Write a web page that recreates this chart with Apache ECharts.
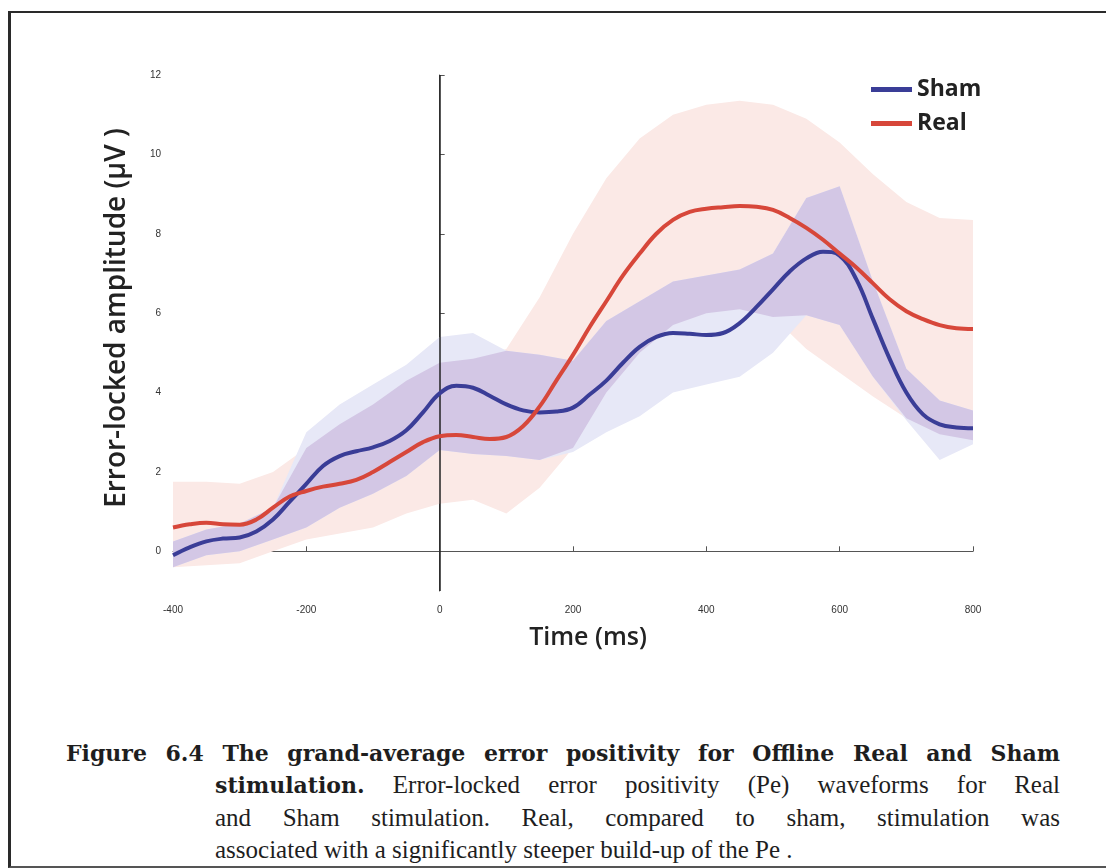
<!DOCTYPE html>
<html>
<head>
<meta charset="utf-8">
<script src="https://cdn.jsdelivr.net/npm/echarts@6/dist/echarts.min.js"></script>
<style>
  html, body { margin: 0; padding: 0; background: #ffffff; width: 1106px; height: 868px; overflow: hidden; }
  #frame { position: absolute; left: 8px; top: 11px; width: 1200px; height: 853px;
           border-top: 2px solid #2a2a2a; border-left: 3px solid #2a2a2a; border-bottom: 2px solid #555; }
  #chart { position: absolute; left: 0; top: 0; width: 1106px; height: 700px; }
  .cap { position: absolute; font-family: 'Liberation Serif', 'DejaVu Serif', serif; font-size: 25px;
         line-height: 33px; color: #1e1e1e; white-space: nowrap; }
  .just { text-align: justify; text-align-last: justify; white-space: normal; }
  b { font-family: 'DejaVu Serif', 'Liberation Serif', serif; font-weight: bold; font-size: 22px; }
</style>
</head>
<body>
<div id="frame"></div>
<div id="chart"></div>
<div class="cap just" style="left:66px; top:736px; width:994px;"><b>Figure 6.4 The grand-average error positivity for Offline Real and Sham</b></div>
<div class="cap just" style="left:215px; top:768px; width:845px;"><b>stimulation.</b> Error-locked error positivity (Pe) waveforms for Real</div>
<div class="cap just" style="left:215px; top:801px; width:845px;">and Sham stimulation. Real, compared to sham, stimulation was</div>
<div class="cap" style="left:215px; top:833px;">associated with a significantly steeper build-up of the Pe .</div>
<script>
// ---- data (time in ms, amplitude in µV) ----
const times = [-400,-375,-350,-325,-300,-275,-250,-225,-200,-175,-150,-125,-100,-75,-50,-25,
  0,25,50,75,100,125,150,175,200,225,250,275,300,325,350,375,400,425,450,475,500,525,550,575,
  600,625,650,675,700,725,750,775,800];
const shamMean = [-0.1,0.1,0.25,0.32,0.35,0.5,0.8,1.25,1.7,2.15,2.4,2.52,2.62,2.78,3.05,3.5,
  3.98,4.17,4.12,3.92,3.7,3.55,3.5,3.52,3.62,3.95,4.3,4.75,5.15,5.4,5.5,5.48,5.45,5.5,5.75,6.15,
  6.6,7.05,7.38,7.55,7.45,6.85,5.85,4.85,4.0,3.45,3.2,3.12,3.1];
const realMean = [0.6,0.68,0.72,0.68,0.67,0.8,1.1,1.38,1.52,1.63,1.7,1.8,2.0,2.25,2.5,2.75,
  2.9,2.93,2.88,2.83,2.88,3.15,3.65,4.3,4.95,5.65,6.3,6.95,7.5,8.0,8.35,8.55,8.63,8.67,8.7,8.68,
  8.6,8.4,8.15,7.85,7.5,7.15,6.75,6.35,6.05,5.85,5.7,5.62,5.6];

const bandTimes = [-400,-350,-300,-250,-200,-150,-100,-50,0,50,100,150,200,250,300,350,400,450,
  500,550,600,650,700,750,800];
const realLo = [-0.4,-0.35,-0.3,0.0,0.3,0.45,0.6,0.95,1.2,1.3,0.95,1.6,2.6,4.0,5.0,5.7,6.0,6.1,
  5.9,5.1,4.5,3.9,3.35,2.95,2.8];
const realHi = [1.75,1.75,1.7,2.0,2.6,3.2,3.7,4.3,4.75,4.85,5.1,6.4,8.0,9.4,10.4,11.0,11.25,11.35,
  11.25,10.9,10.3,9.5,8.8,8.4,8.35];
const shamLo = [-0.4,-0.1,0.0,0.3,0.6,1.1,1.45,1.9,2.55,2.45,2.4,2.3,2.5,3.0,3.4,4.0,4.2,4.4,
  5.0,5.95,5.7,4.4,3.3,2.3,2.7];
const shamHi = [0.25,0.55,0.7,1.1,3.0,3.7,4.2,4.7,5.4,5.5,5.05,4.95,4.8,5.8,6.3,6.8,6.95,7.1,
  7.5,8.9,9.2,6.8,4.6,3.8,3.55];

const xTicks = [-400,-200,0,200,400,600,800];
const yTicks = [0,2,4,6,8,10,12];

// ---- helpers ----
const pair = (xs, ys) => xs.map((x, i) => [x, ys[i]]);
const overlapLo = bandTimes.map((t, i) => Math.max(realLo[i], shamLo[i]));
const overlapHi = bandTimes.map((t, i) => Math.max(overlapLo[i], Math.min(realHi[i], shamHi[i])));

function band(name, lo, hi, color, z) {
  return {
    name: name, type: 'custom', silent: true, z: z, clip: true,
    data: bandTimes.map((t, i) => [t, lo[i], hi[i]]),
    encode: { x: 0, y: [1, 2] },
    renderItem: function (params, api) {
      if (params.dataIndex !== 0) return null;
      const pts = [];
      for (let i = 0; i < bandTimes.length; i++) pts.push(api.coord([bandTimes[i], hi[i]]));
      for (let i = bandTimes.length - 1; i >= 0; i--) pts.push(api.coord([bandTimes[i], lo[i]]));
      return { type: 'polygon', shape: { points: pts }, style: { fill: color, stroke: null } };
    }
  };
}

const chart = echarts.init(document.getElementById('chart'));
const tickFont = { fontFamily: "'Liberation Sans Narrow', 'Liberation Sans', sans-serif", fontSize: 10, color: '#333' };

chart.setOption({
  animation: false,
  backgroundColor: 'transparent',
  grid: { left: 173, right: 133, top: 75, height: 516 },
  legend: {
    data: ['Sham', 'Real'], orient: 'vertical', left: 866, top: 73, itemWidth: 41, itemHeight: 5,
    itemGap: 11, icon: 'rect',
    textStyle: { fontFamily: "'Open Sans', sans-serif", fontWeight: 'bold', fontSize: 23, color: '#222' }
  },
  xAxis: {
    type: 'value', min: -400, max: 800, interval: 200,
    name: 'Time (ms)', nameLocation: 'middle', nameGap: 34,
    nameTextStyle: { fontFamily: "'Open Sans', sans-serif", fontWeight: 600, fontSize: 25, color: '#222',
                     padding: [0, 0, 0, 30] },
    axisLine: { lineStyle: { color: '#555', width: 1 } },
    axisTick: { inside: true, length: 5, lineStyle: { color: '#555' } },
    axisLabel: Object.assign({ margin: 14 }, tickFont),
    splitLine: { show: false }
  },
  yAxis: {
    type: 'value', min: -1, max: 12,
    name: 'Error-locked amplitude (µV )', nameLocation: 'middle', nameGap: 42, nameRotate: 90,
    nameTextStyle: { fontFamily: "'Open Sans', sans-serif", fontWeight: 600, fontSize: 28, color: '#222',
                     padding: [0, 0, 0, 30] },
    axisLine: { show: true, lineStyle: { color: '#555', width: 1 } },
    axisTick: { show: true, inside: true, length: 5, customValues: yTicks, lineStyle: { color: '#555' } },
    axisLabel: Object.assign({ margin: 12, customValues: yTicks }, tickFont),
    splitLine: { show: false }
  },
  series: [
    band('realBand', realLo, realHi, '#fbe9e6', 1),
    band('shamBand', shamLo, shamHi, '#e7e8f7', 2),
    band('overlapBand', overlapLo, overlapHi, '#d3c7e5', 3),
    { name: 'Sham', type: 'line', data: pair(times, shamMean), symbol: 'none', smooth: 0.4,
      color: '#3a3d97', lineStyle: { width: 4, color: '#3a3d97' }, z: 5 },
    { name: 'Real', type: 'line', data: pair(times, realMean), symbol: 'none', smooth: 0.4,
      color: '#d7473a', lineStyle: { width: 4, color: '#d7473a' }, z: 6,
      markLine: { silent: true, symbol: 'none', label: { show: false },
                  lineStyle: { color: '#222', width: 1.5, type: 'solid' }, data: [{ xAxis: 0 }] } }
  ]
});
</script>
</body>
</html>
